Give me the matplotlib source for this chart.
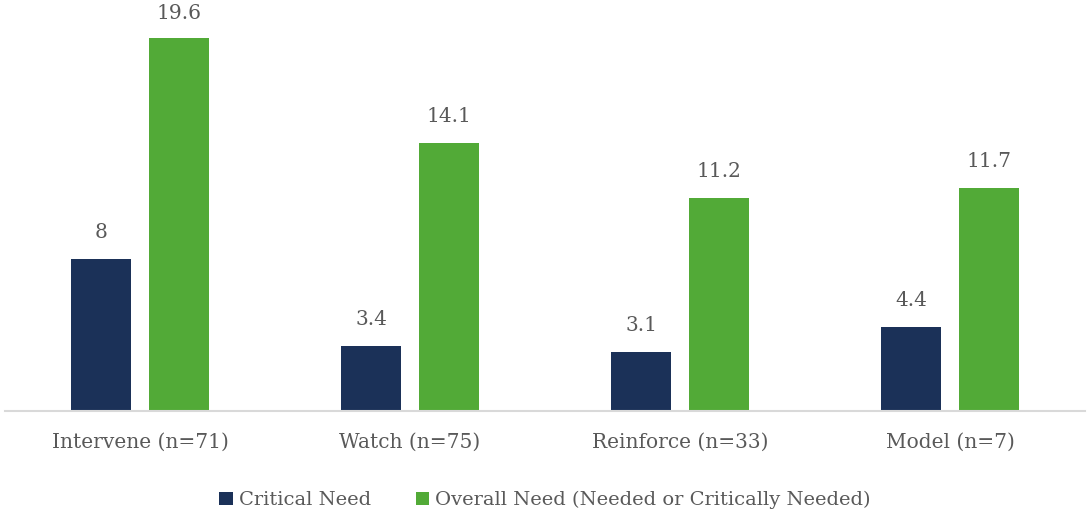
import matplotlib.pyplot as plt
import numpy as np

categories = ['Intervene (n=71)', 'Watch (n=75)', 'Reinforce (n=33)', 'Model (n=7)']
critical_need = [8, 3.4, 3.1, 4.4]
overall_need = [19.6, 14.1, 11.2, 11.7]
series_names = ['Critical Need', 'Overall Need (Needed or Critically Needed)']

navy = '#1b3158'
green = '#52aa37'
text_gray = '#595959'
serif = ['DejaVu Serif']

fig = plt.figure(figsize=(10.9, 5.16), dpi=100)
ax = fig.add_axes([5 / 1090, 105 / 516, 1080 / 1090, 411 / 516])

x = np.arange(len(categories))
width = 0.222
offset = 0.143
ymax = 21.6

bars1 = ax.bar(x - offset, critical_need, width, color=navy, label=series_names[0])
bars2 = ax.bar(x + offset, overall_need, width, color=green, label=series_names[1])

# value labels above the bars, kept inside the top of the axes
for bars, vals in [(bars1, critical_need), (bars2, overall_need)]:
    for b, v in zip(bars, vals):
        ax.text(b.get_x() + b.get_width() / 2, min(v + 0.9, ymax - 1.2), f'{v:g}',
                ha='center', va='bottom', fontsize=14.5, color=text_gray, family=serif)

ax.set_xlim(-0.5, 3.5)
ax.set_ylim(0, ymax)
ax.set_yticks([])
ax.set_xticks(x)
ax.set_xticklabels(categories, fontsize=14.5, color=text_gray, family=serif)
ax.tick_params(axis='x', length=0, pad=16)

for side in ['top', 'right', 'left']:
    ax.spines[side].set_visible(False)
ax.spines['bottom'].set_color('#d9d9d9')
ax.spines['bottom'].set_linewidth(1.5)

leg = fig.legend(loc='center', bbox_to_anchor=(0.5, 16 / 516), ncol=2, frameon=False,
                 handlelength=0.7, handleheight=0.7, handletextpad=0.3, columnspacing=2.3,
                 prop={'family': serif, 'size': 14})
for t in leg.get_texts():
    t.set_color(text_gray)

fig.savefig('out.png', dpi=100)
